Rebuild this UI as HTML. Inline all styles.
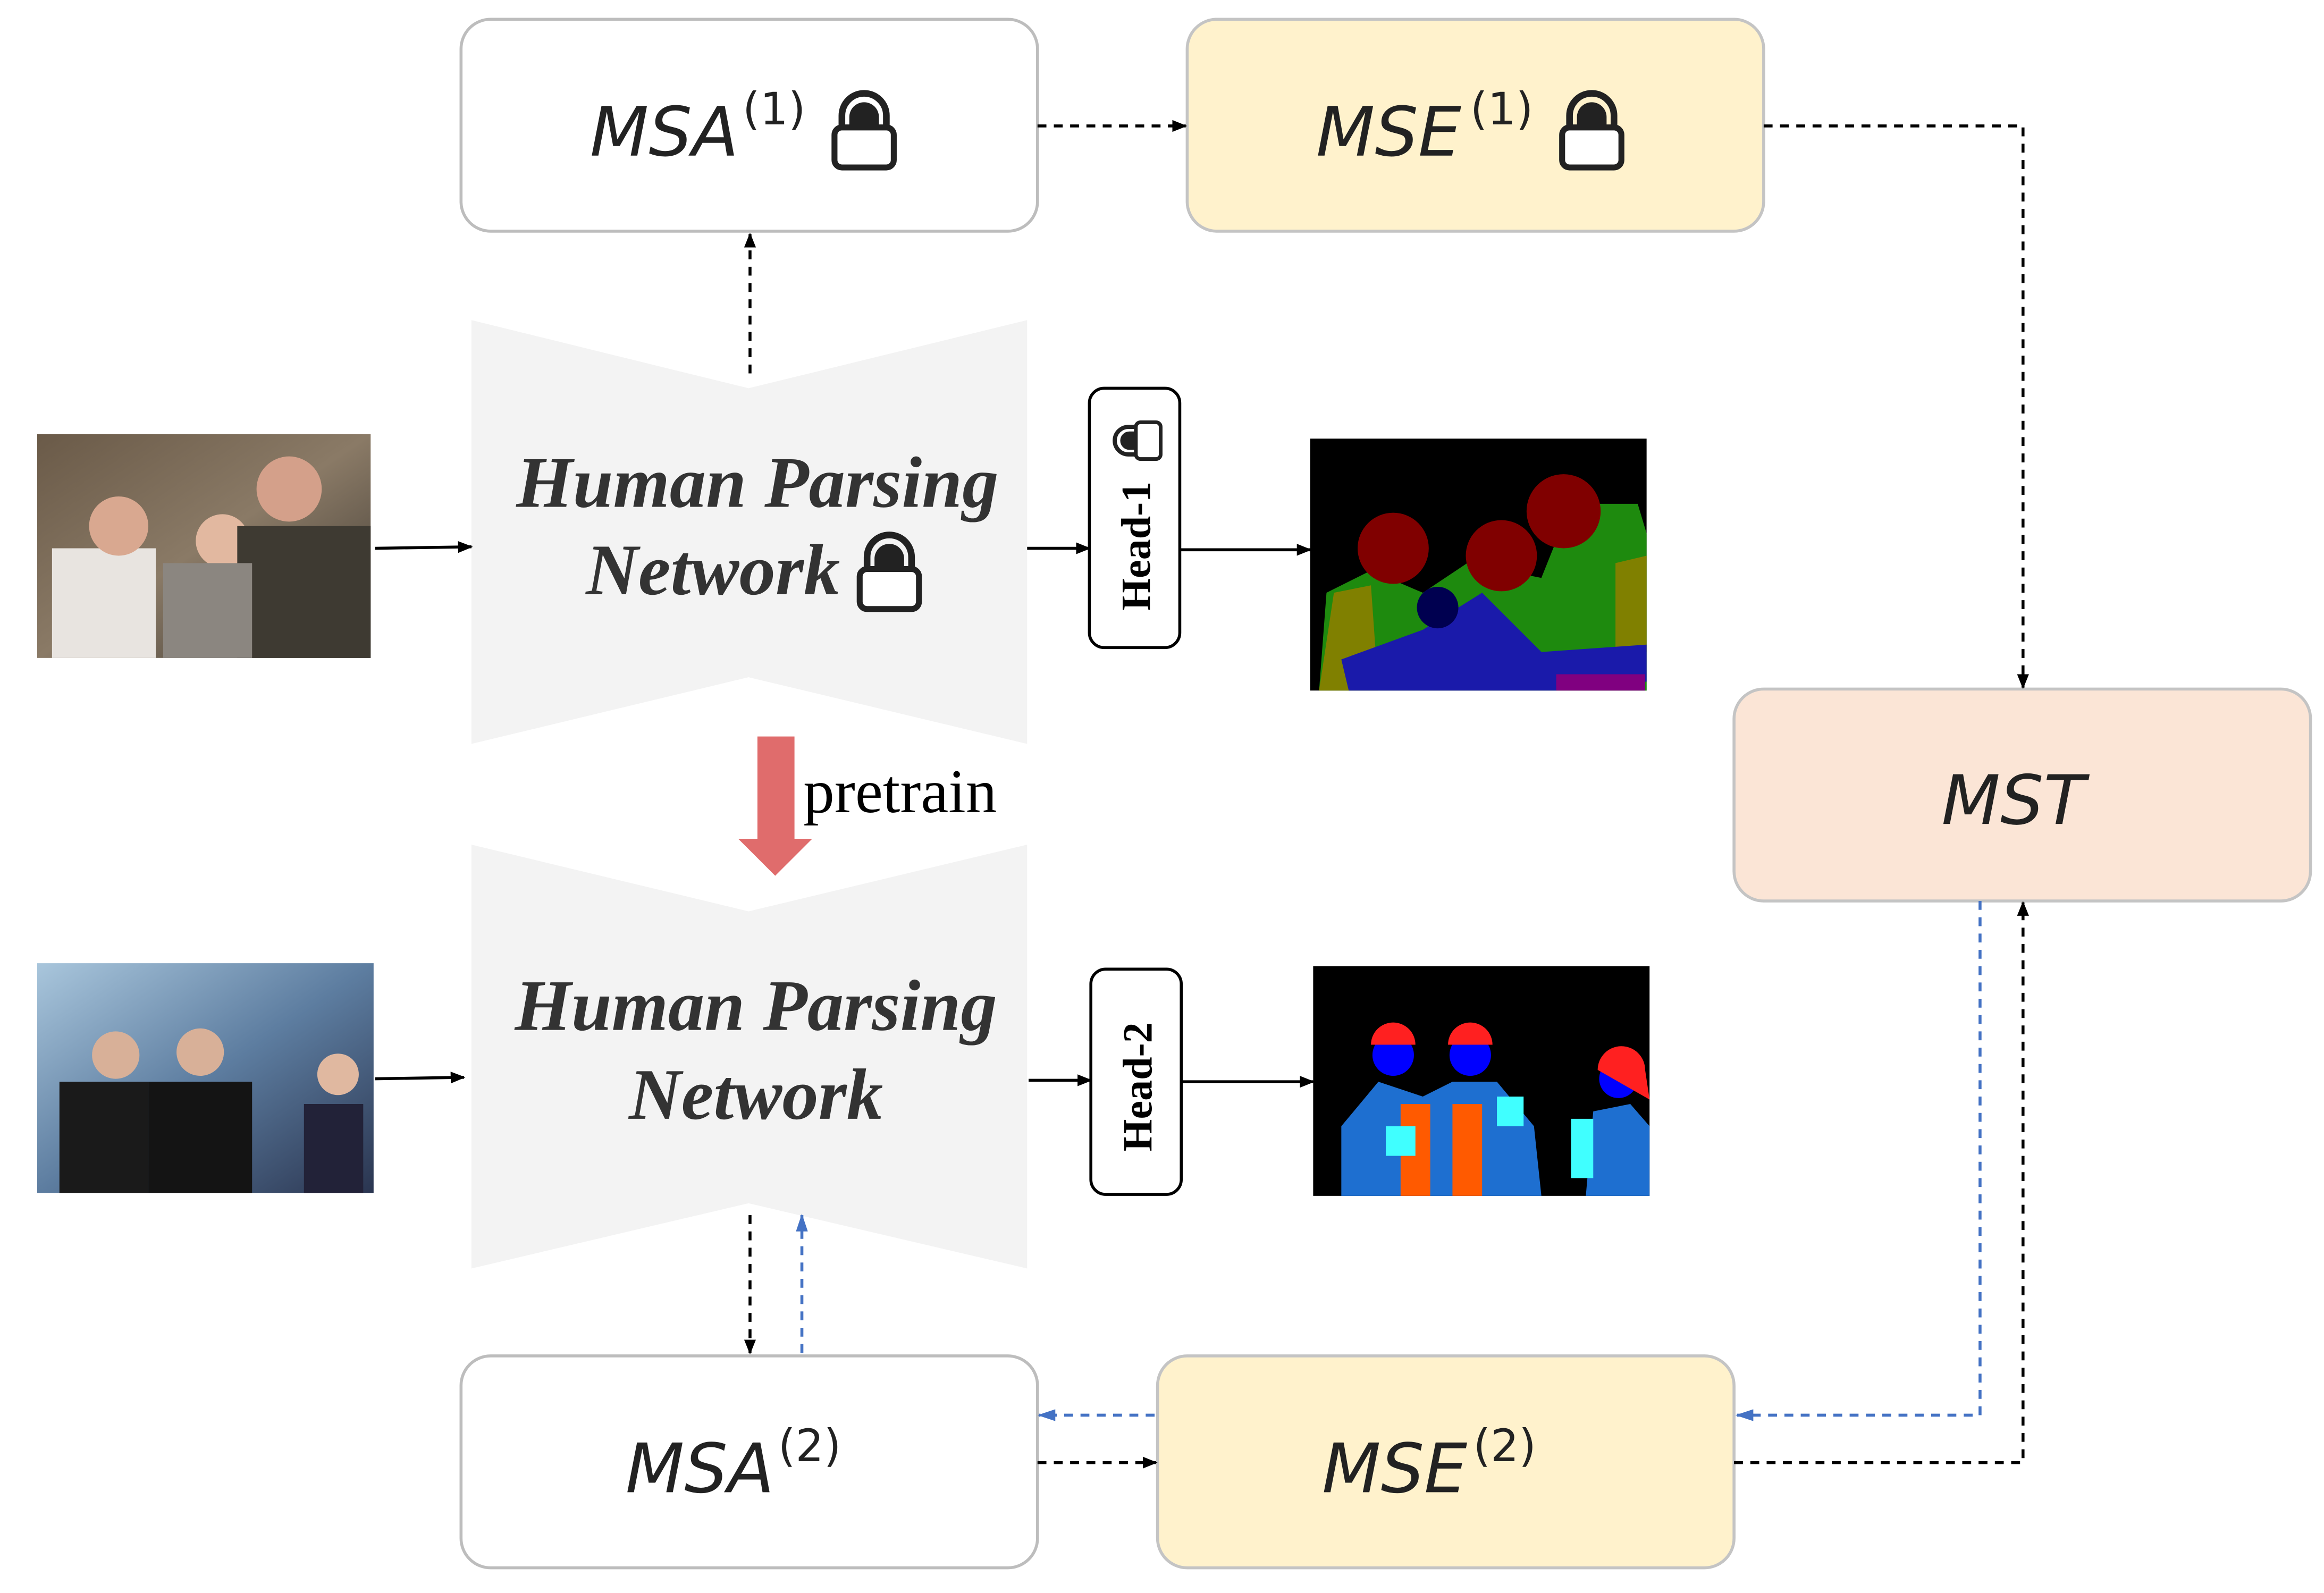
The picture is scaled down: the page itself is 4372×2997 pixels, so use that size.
<!DOCTYPE html>
<html><head><meta charset="utf-8"><style>
html,body{margin:0;padding:0;background:#fff;}
svg{display:block;}
.m{font-family:"DejaVu Sans","Liberation Sans",sans-serif;font-style:italic;fill:#222;}
.sup{font-family:"DejaVu Sans","Liberation Sans",sans-serif;font-style:normal;fill:#222;}
.hp{font-family:"Liberation Serif",serif;font-style:italic;font-weight:bold;fill:#333;font-size:49px;}
</style></head><body>
<svg width="4372" height="2997" viewBox="0 0 1568 1075" xmlns="http://www.w3.org/2000/svg">
<defs>
<marker id="ab" markerWidth="10" markerHeight="8" refX="9" refY="4" orient="auto" markerUnits="userSpaceOnUse"><path d="M0,0 L10,4 L0,8 z" fill="#000"/></marker>
<marker id="ablue" markerWidth="12" markerHeight="8" refX="11" refY="4" orient="auto" markerUnits="userSpaceOnUse"><path d="M0,0 L12,4 L0,8 z" fill="#4472c4"/></marker>
<g id="lock">
<path d="M7,29 v-9 a15,15 0 0 1 30,0 v9" fill="none" stroke="#222" stroke-width="4.5"/>
<path d="M12,29 v-8 a10,10 0 0 1 20,0 v8 z" fill="#222"/>
<rect x="2" y="28" width="40" height="27" rx="5" fill="#fff" stroke="#222" stroke-width="4"/>
</g>
<linearGradient id="p1" x1="0" y1="0" x2="1" y2="1"><stop offset="0" stop-color="#6a5a48"/><stop offset="0.5" stop-color="#8a7a66"/><stop offset="1" stop-color="#3b3630"/></linearGradient>
<linearGradient id="p2" x1="0" y1="0" x2="1" y2="1"><stop offset="0" stop-color="#a9c6dc"/><stop offset="0.5" stop-color="#5d7da0"/><stop offset="1" stop-color="#2a3550"/></linearGradient>
</defs>

<rect x="311" y="13" width="389" height="143" rx="20" fill="#fff" stroke="#bdbdbd" stroke-width="2"/>
<rect x="801" y="13" width="389" height="143" rx="20" fill="#fff2cc" stroke="#c4c4c4" stroke-width="2"/>
<rect x="1170" y="465" width="389" height="143" rx="20" fill="#fbe5d6" stroke="#c4c4c4" stroke-width="2"/>
<rect x="311" y="915" width="389" height="143" rx="20" fill="#fff" stroke="#bdbdbd" stroke-width="2"/>
<rect x="781" y="915" width="389" height="143" rx="20" fill="#fff2cc" stroke="#c4c4c4" stroke-width="2"/>

<text x="398" y="105" class="m" font-size="46">MSA</text><text x="501" y="84" class="sup" font-size="30">(1)</text>
<use href="#lock" x="561" y="58"/>
<text x="888" y="105" class="m" font-size="46">MSE</text><text x="992" y="84" class="sup" font-size="30">(1)</text>
<use href="#lock" x="1052" y="58"/>
<text x="1310" y="556" class="m" font-size="46">MST</text>
<text x="422" y="1007" class="m" font-size="46">MSA</text><text x="525" y="986" class="sup" font-size="30">(2)</text>
<text x="892" y="1007" class="m" font-size="46">MSE</text><text x="994" y="986" class="sup" font-size="30">(2)</text>

<polygon points="318,216 505,262 693,216 693,502 505,457 318,502" fill="#f3f3f3"/>
<polygon points="318,570 505,615 693,570 693,856 505,812 318,856" fill="#f3f3f3"/>
<text x="511" y="342" class="hp" text-anchor="middle">Human Parsing</text>
<text x="481" y="401" class="hp" text-anchor="middle">Network</text>
<use href="#lock" x="578" y="356"/>
<text x="510" y="695" class="hp" text-anchor="middle">Human Parsing</text>
<text x="510" y="755" class="hp" text-anchor="middle">Network</text>

<rect x="511" y="497" width="25" height="70" fill="#e06c6c"/>
<polygon points="498,566 548,566 523,591" fill="#e06c6c"/>
<text x="542" y="548" font-family="Liberation Serif,serif" font-size="42" fill="#000">pretrain</text>

<rect x="735" y="262" width="61" height="175" rx="10" fill="#fff" stroke="#000" stroke-width="2"/>
<text transform="translate(776,412) rotate(-90)" font-family="Liberation Serif,serif" font-weight="bold" font-size="28">Head-1</text>
<g transform="translate(749,311) rotate(-90) scale(0.62)"><use href="#lock"/></g>
<rect x="736" y="654" width="61" height="152" rx="10" fill="#fff" stroke="#000" stroke-width="2"/>
<text transform="translate(777,777) rotate(-90)" font-family="Liberation Serif,serif" font-weight="bold" font-size="28">Head-2</text>

<rect x="25" y="293" width="225" height="151" fill="url(#p1)"/>
<rect x="35" y="370" width="70" height="74" fill="#e8e4e0"/>
<circle cx="80" cy="355" r="20" fill="#d9a890"/>
<circle cx="150" cy="365" r="18" fill="#e2b8a0"/>
<circle cx="195" cy="330" r="22" fill="#d4a08a"/>
<rect x="160" y="355" width="90" height="89" fill="#3e3a32"/>
<rect x="110" y="380" width="60" height="64" fill="#8b8680"/>
<rect x="25" y="650" width="227" height="155" fill="url(#p2)"/>
<rect x="40" y="730" width="60" height="75" fill="#1a1a1a"/>
<rect x="100" y="730" width="70" height="75" fill="#141414"/>
<rect x="205" y="745" width="40" height="60" fill="#222238"/>
<circle cx="78" cy="712" r="16" fill="#d8b098"/>
<circle cx="135" cy="710" r="16" fill="#d8b098"/>
<circle cx="228" cy="725" r="14" fill="#e0b8a0"/>

<rect x="884" y="296" width="227" height="170" fill="#000"/>
<path d="M890,466 L895,400 L925,385 L960,400 L990,380 L1040,390 L1060,340 L1105,340 L1111,360 L1111,466 z" fill="#1e8a0e"/>
<circle cx="940" cy="370" r="24" fill="#800000"/>
<circle cx="1013" cy="375" r="24" fill="#800000"/>
<circle cx="1055" cy="345" r="25" fill="#800000"/>
<path d="M890,466 L900,400 L925,395 L930,466 z" fill="#808000"/>
<path d="M1090,380 L1111,375 L1111,440 L1090,440 z" fill="#808000"/>
<path d="M905,445 L960,425 L1000,400 L1040,440 L1111,435 L1111,460 L1050,466 L910,466 z" fill="#1a1aaa"/>
<circle cx="970" cy="410" r="14" fill="#000050"/>
<rect x="1050" y="455" width="60" height="11" fill="#800080"/>
<rect x="886" y="652" width="227" height="155" fill="#000"/>
<path d="M905,807 L905,760 L930,730 L960,740 L980,730 L1010,730 L1035,760 L1040,807 z" fill="#1e6fd0"/>
<path d="M1070,807 L1075,750 L1100,745 L1113,760 L1113,807 z" fill="#1e6fd0"/>
<rect x="945" y="745" width="20" height="62" fill="#ff5a00"/>
<rect x="980" y="745" width="20" height="62" fill="#ff5a00"/>
<circle cx="940" cy="712" r="14" fill="#0000ff"/><path d="M925,705 a15,15 0 0 1 30,0 z" fill="#ff2020"/>
<circle cx="992" cy="712" r="14" fill="#0000ff"/><path d="M977,705 a15,15 0 0 1 30,0 z" fill="#ff2020"/>
<circle cx="1092" cy="728" r="13" fill="#0000ff"/><path d="M1078,722 a15,15 0 0 1 32,0 l3,20 z" fill="#ff2020"/>
<rect x="1060" y="755" width="15" height="40" fill="#40ffff"/>
<rect x="935" y="760" width="20" height="20" fill="#40ffff"/>
<rect x="1010" y="740" width="18" height="20" fill="#40ffff"/>

<g stroke="#000" stroke-width="2" fill="none" marker-end="url(#ab)">
<line x1="253" y1="370" x2="318" y2="369"/>
<line x1="693" y1="370" x2="735" y2="370"/>
<line x1="796" y1="371" x2="884" y2="371"/>
<line x1="253" y1="728" x2="313" y2="727"/>
<line x1="694" y1="729" x2="736" y2="729"/>
<line x1="797" y1="730" x2="886" y2="730"/>
</g>
<g stroke="#000" stroke-width="2" fill="none" stroke-dasharray="6,5" marker-end="url(#ab)">
<line x1="506" y1="252" x2="506" y2="158"/>
<line x1="700" y1="85" x2="800" y2="85"/>
<polyline points="1190,85 1365,85 1365,464"/>
<polyline points="1170,987 1365,987 1365,609"/>
<line x1="700" y1="987" x2="780" y2="987"/>
<line x1="506" y1="820" x2="506" y2="913"/>
</g>
<g stroke="#4472c4" stroke-width="2" fill="none" stroke-dasharray="6,5" marker-end="url(#ablue)">
<polyline points="1336,608 1336,955 1172,955"/>
<line x1="779" y1="955" x2="701" y2="955"/>
<line x1="541" y1="913" x2="541" y2="820"/>
</g>
</svg>
</body></html>
